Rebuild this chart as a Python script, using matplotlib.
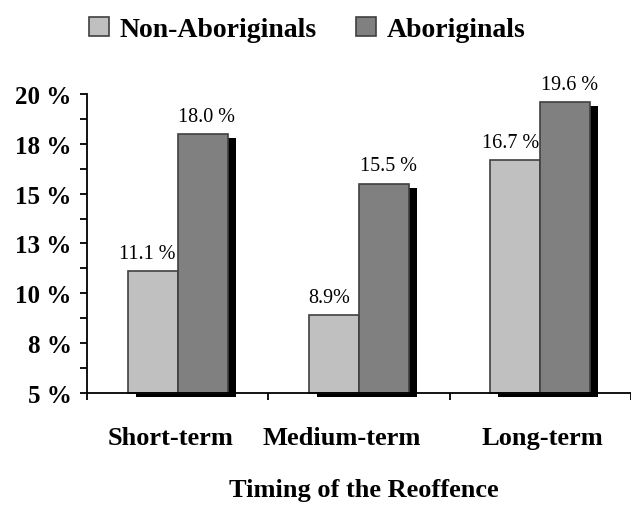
import numpy as np
import matplotlib.pyplot as plt
import matplotlib.patheffects as pe
import matplotlib.transforms as mtransforms
from matplotlib.patches import Patch
from matplotlib.ticker import MultipleLocator, FuncFormatter

plt.rcParams['font.family'] = ['Liberation Serif', 'DejaVu Serif']

categories = ["Short-term", "Medium-term", "Long-term"]
groups = ["Non-Aboriginals", "Aboriginals"]
non_abo = [11.1, 8.9, 16.7]
abo = [18.0, 15.5, 19.6]
non_abo_lbl = ["11.1 %", "8.9%", "16.7 %"]
abo_lbl = ["18.0 %", "15.5 %", "19.6 %"]
colors = ["#c0c0c0", "#808080"]

fig = plt.figure(figsize=(6.31, 5.06), dpi=100)
ax = fig.add_axes([0.138, 0.2213, 0.862, 0.591])

x = np.arange(len(categories))
w = 0.276
shadow = [pe.SimplePatchShadow(offset=(5.8, -2.9), shadow_rgbFace="black", alpha=1.0),
          pe.Normal()]

for vals, lbls, col, off, dx in [(non_abo, non_abo_lbl, colors[0], -w / 2, -3.6),
                                 (abo, abo_lbl, colors[1], w / 2, 3)]:
    bars = ax.bar(x + off, np.array(vals) - 5, w, bottom=5, color=col,
                  edgecolor="#404040", linewidth=1.2, clip_on=False, zorder=2)
    for b in bars:
        b.set_path_effects(shadow)
    for b, v, s in zip(bars, vals, lbls):
        ax.annotate(s, (b.get_x() + b.get_width() / 2, v), xytext=(dx, 9.5),
                    textcoords="offset points", ha="center", va="baseline",
                    fontsize=14.5)

ax.set_xlim(-0.5, 2.44)
ax.set_ylim(5, 20)
for s in ["top", "right"]:
    ax.spines[s].set_visible(False)
for s in ["left", "bottom"]:
    ax.spines[s].set_linewidth(1.3)
    ax.spines[s].set_zorder(3)

ax.yaxis.set_major_locator(MultipleLocator(2.5))
ax.yaxis.set_minor_locator(MultipleLocator(1.25))
ax.yaxis.set_major_formatter(FuncFormatter(lambda v, p: f"{int(v + 0.5)} %"))
ax.tick_params(axis="y", which="both", direction="out", length=5, width=1.3)
ax.tick_params(axis="y", which="major", labelsize=18, pad=6)
for t in ax.get_yticklabels():
    t.set_fontweight("bold")

# category labels on major ticks, boundary ticks as minor
ax.set_xticks(x)
ax.set_xticklabels(categories, fontsize=19, fontweight="bold")
ax.set_xticks([-0.5, 0.5, 1.5, 2.5], minor=True)
ax.tick_params(axis="x", which="major", length=0, pad=24)
ax.tick_params(axis="x", which="minor", direction="out", length=5, width=1.3)
shifts = [-5.4, -12.5, 1.6]
for t, dx in zip(ax.get_xticklabels(), shifts):
    t.set_transform(t.get_transform() + mtransforms.ScaledTranslation(dx / 72, 0, fig.dpi_scale_trans))

fig.text(0.577, 0.03, "Timing of the Reoffence", ha="center", va="center",
         fontsize=19, fontweight="bold")

handles = [Patch(facecolor=c, edgecolor="#404040", linewidth=1.2) for c in colors]
fig.legend(handles, groups, loc="center", bbox_to_anchor=(0.487, 0.94), ncol=2,
           frameon=False, handlelength=0.72, handleheight=0.72, handletextpad=0.36,
           columnspacing=1.44, borderpad=0, prop={"weight": "bold", "size": 20})

fig.savefig("out.png", dpi=100)
